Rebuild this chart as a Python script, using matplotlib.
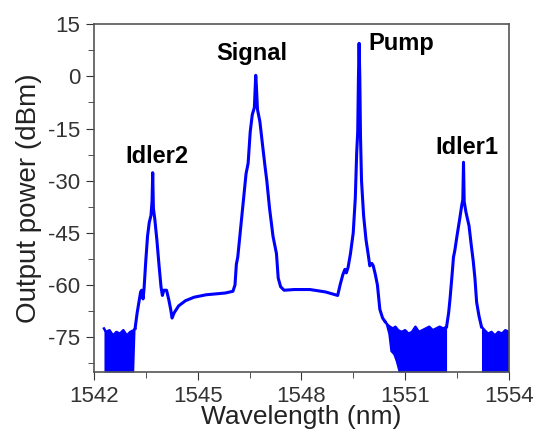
import numpy as np
import matplotlib
matplotlib.use('Agg')
import matplotlib.pyplot as plt
from matplotlib.ticker import MultipleLocator

plt.rcParams['font.family'] = ['Liberation Sans', 'DejaVu Sans']
plt.rcParams['axes.unicode_minus'] = False

# main spectrum trace (nm, dBm)
wl = [1543.19, 1543.25, 1543.30, 1543.35, 1543.38, 1543.42, 1543.45, 1543.50, 1543.55,
      1543.60, 1543.65, 1543.68, 1543.70, 1543.72, 1543.76, 1543.82, 1543.88, 1543.94,
      1543.98, 1544.02, 1544.10, 1544.16, 1544.22, 1544.26, 1544.32, 1544.45, 1544.65,
      1544.90, 1545.25, 1545.80, 1546.02, 1546.08, 1546.12, 1546.16, 1546.22, 1546.30,
      1546.40, 1546.46, 1546.52, 1546.58, 1546.64, 1546.67, 1546.68, 1546.70, 1546.73,
      1546.80, 1546.88, 1546.95, 1547.00, 1547.08, 1547.18, 1547.24, 1547.28, 1547.33,
      1547.40, 1547.50, 1547.80, 1548.25, 1548.70, 1549.05, 1549.12, 1549.20, 1549.26,
      1549.30, 1549.35, 1549.42, 1549.50, 1549.56, 1549.60, 1549.63, 1549.65, 1549.67,
      1549.69, 1549.71, 1549.74, 1549.80, 1549.87, 1549.93, 1549.98, 1550.04, 1550.08,
      1550.14, 1550.20, 1550.27, 1550.35, 1550.42]
pw = [-72.5, -68, -65, -62, -61.5, -64, -61, -53, -46,
      -42, -40, -36, -27.7, -38, -41, -47, -54, -60.5,
      -63, -61.5, -61.5, -64, -67, -69.5, -68, -66, -64.5,
      -63.5, -62.8, -62.3, -61.8, -60, -54, -52, -46, -38,
      -28, -25, -16, -11, -9, -2, 0.3, -3, -9.5,
      -13, -20, -26, -30, -38, -46, -49, -51, -58,
      -60.5, -61.5, -61.3, -61.3, -62, -63, -60, -57, -55.5,
      -56.5, -55, -51, -45, -35, -22, -16, -1, 9.5,
      0, -17, -30, -40, -47, -51, -54.5, -53.8, -54.5,
      -57, -60, -67, -69.5, -70.5]

idl1_wl = [1552.20, 1552.26, 1552.30, 1552.36, 1552.40, 1552.44, 1552.50, 1552.58, 1552.64,
           1552.67, 1552.69, 1552.71, 1552.76, 1552.85, 1552.92, 1552.97, 1553.02, 1553.07,
           1553.14, 1553.21]
idl1_pw = [-72, -68, -64, -57, -52, -50, -46, -41, -37,
           -35.5, -24.7, -36, -39, -43, -49, -53, -58, -65,
           -69, -72]

# noise floor bands (top / bottom envelopes)
left_wl = [1542.29, 1542.35, 1542.45, 1542.55, 1542.65, 1542.75, 1542.85, 1542.95, 1543.05, 1543.15, 1543.19]
left_top = [-72.5, -73.5, -73, -74.5, -73.5, -74, -73, -74.5, -73.5, -73, -72.5]
left_bot = [-85, -85, -85, -85, -85, -85, -85, -85, -85, -85, -72.5]

mid_wl = [1550.42, 1550.50, 1550.56, 1550.65, 1550.72, 1550.80, 1550.90, 1551.00, 1551.10, 1551.20,
          1551.30, 1551.40, 1551.50, 1551.60, 1551.70, 1551.80, 1551.90, 1552.00, 1552.10, 1552.20]
mid_top = [-70.5, -71.5, -72, -72.5, -72, -73, -73.5, -73, -74, -73.5,
           -72, -73.5, -73, -72.5, -72, -73, -72.5, -72, -72.5, -72]
mid_bot = [-71, -74, -79, -80, -82, -85, -85, -85, -85, -85,
           -85, -85, -85, -85, -85, -85, -85, -85, -85, -85]

right_wl = [1553.21, 1553.30, 1553.40, 1553.50, 1553.60, 1553.70, 1553.80, 1553.90, 1554.00]
right_top = [-72, -73, -74, -73.5, -74.5, -73.5, -74, -73, -73.5]
right_bot = [-85, -85, -85, -85, -85, -85, -85, -85, -85]

labels = ['Idler2', 'Signal', 'Pump', 'Idler1']
label_x = [1543.82, 1546.57, 1550.88, 1552.79]
label_y = [-23, 6.5, 9.5, -20.5]

blue = '#0000ff'
fig = plt.figure(figsize=(5.43, 4.32), dpi=100)
ax = fig.add_axes([0.173, 0.139, 0.764, 0.805])

for x, t, b in [(left_wl, left_top, left_bot), (mid_wl, mid_top, mid_bot), (right_wl, right_top, right_bot)]:
    ax.fill_between(x, b, t, color=blue, linewidth=0)
    ax.plot(x, t, color=blue, lw=1.8)

ax.plot(wl, pw, color=blue, lw=2.2)
ax.plot(idl1_wl, idl1_pw, color=blue, lw=2.2)

for s, x, y in zip(labels, label_x, label_y):
    ax.text(x, y, s, ha='center', va='center', fontsize=17, fontweight='bold')

ax.set_xlim(1542, 1554)
ax.set_ylim(-85, 15)
ax.set_xticks([1542, 1545, 1548, 1551, 1554])
ax.set_yticks([15, 0, -15, -30, -45, -60, -75])
ax.xaxis.set_minor_locator(MultipleLocator(1.5))
ax.yaxis.set_minor_locator(MultipleLocator(7.5))
ax.tick_params(which='both', direction='out', top=False, right=False, labelsize=16, colors='#333333')
ax.tick_params(which='major', length=6, pad=4)
ax.tick_params(which='minor', length=4)
for sp in ax.spines.values():
    sp.set_color('#555555')
    sp.set_linewidth(1.2)

ax.set_xlabel('Wavelength (nm)', fontsize=19, labelpad=-1, color='#222222')
ax.set_ylabel('Output power (dBm)', fontsize=20, labelpad=4, color='#222222')

fig.savefig('out.png', dpi=100)
